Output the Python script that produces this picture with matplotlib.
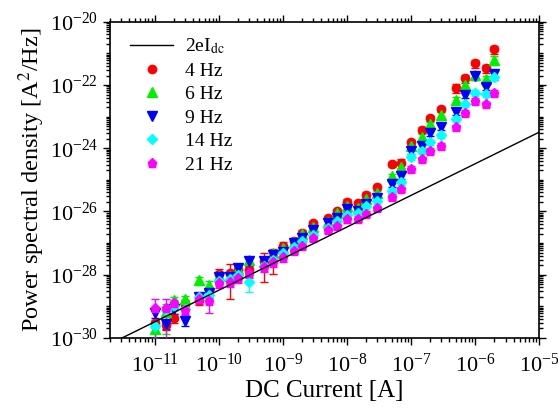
import numpy as np
import matplotlib
matplotlib.use("Agg")
import matplotlib.pyplot as plt
from matplotlib.lines import Line2D
from matplotlib.ticker import FixedLocator, LogFormatterSciNotation, NullFormatter

plt.rcParams['font.family'] = ['Liberation Serif', 'DejaVu Serif']
plt.rcParams['mathtext.fontset'] = 'stix'

# DC current [A]
current = [1e-11, 1.5e-11, 2e-11, 3e-11, 5e-11, 7e-11,
           1e-10, 1.5e-10, 2e-10, 3e-10, 5e-10, 7e-10,
           1e-9, 1.5e-9, 2e-9, 3e-9, 5e-9, 7e-9,
           1e-8, 1.5e-8, 2e-8, 3e-8, 5e-8, 7e-8,
           1e-7, 1.5e-7, 2e-7, 3e-7, 5e-7, 7e-7,
           1e-6, 1.5e-6, 2e-6]

psd_4hz = [2.88e-30, 2.49e-30, 4.31e-30, 1.21e-29, 1.55e-29, 3.20e-29,
           1.03e-28, 1.15e-28, 1.38e-28, 1.38e-28, 2.66e-28, 3.64e-28,
           8.13e-28, 1.15e-27, 2.08e-27, 4.17e-27, 6.14e-27, 1.00e-26,
           2.01e-26, 1.79e-26, 3.36e-26, 5.89e-26, 3.16e-25, 3.40e-25,
           1.57e-24, 3.78e-24, 8.87e-24, 1.71e-23, 8.28e-23, 1.64e-22,
           4.91e-22, 3.40e-22, 1.36e-21]
psd_6hz = [1.86e-30, 6.56e-30, 1.55e-29, 1.68e-29, 6.64e-29, 4.79e-29,
           8.89e-29, 8.89e-29, 1.48e-28, 2.86e-28, 2.56e-28, 4.76e-28,
           6.87e-28, 1.09e-27, 1.87e-27, 3.25e-27, 4.58e-27, 8.65e-27,
           1.53e-26, 1.32e-26, 2.55e-26, 3.80e-26, 1.32e-25, 2.54e-25,
           1.17e-24, 2.31e-24, 5.71e-24, 1.13e-23, 3.37e-23, 1.01e-22,
           2.09e-22, 1.56e-22, 6.25e-22]
psd_9hz = [5.97e-30, 2.68e-30, 8.00e-30, 3.51e-30, 1.92e-29, 2.67e-29,
           8.28e-29, 8.28e-29, 1.60e-28, 2.66e-28, 2.76e-28, 4.12e-28,
           5.24e-28, 9.68e-28, 1.43e-27, 2.55e-27, 4.26e-27, 6.35e-27,
           1.18e-26, 1.06e-26, 1.74e-26, 2.64e-26, 7.33e-26, 1.36e-25,
           8.45e-25, 1.20e-24, 2.96e-24, 4.80e-24, 1.44e-23, 4.85e-23,
           1.87e-22, 8.51e-23, 2.25e-22]
psd_14hz = [2.31e-30, 7.45e-30, 9.95e-30, 8.00e-30, 1.96e-29, 2.22e-29,
            6.18e-29, 7.14e-29, 9.57e-29, 5.74e-29, 1.89e-28, 2.86e-28,
            4.67e-28, 7.55e-28, 1.20e-27, 1.77e-27, 2.96e-27, 5.11e-27,
            7.64e-27, 9.16e-27, 1.47e-26, 2.12e-26, 4.56e-26, 8.49e-26,
            5.38e-25, 8.34e-25, 1.54e-24, 2.62e-24, 8.41e-24, 2.46e-23,
            5.74e-23, 5.11e-23, 1.77e-22]
psd_21hz = [8.93e-30, 8.61e-30, 1.24e-29, 7.45e-30, 1.66e-29, 1.51e-29,
            5.33e-29, 5.74e-29, 7.69e-29, 1.11e-28, 1.75e-28, 2.52e-28,
            3.64e-28, 5.52e-28, 8.24e-28, 1.43e-27, 2.55e-27, 3.42e-27,
            5.57e-27, 5.82e-27, 8.39e-27, 1.27e-26, 2.94e-26, 5.09e-26,
            2.28e-25, 4.55e-25, 8.34e-25, 1.20e-24, 4.59e-24, 1.33e-23,
            3.18e-23, 2.46e-23, 5.74e-23]

# relative (linear) error of each point
err_4hz = [0.3, 0.3, 0.3, 0.3, 0.3, 0.3,
           0.5, 0.85, 0.3, 0.3, 0.78, 0.72,
           0.3, 0.3, 0.2, 0.2, 0.2, 0.2,
           0.2, 0.2, 0.2, 0.2, 0.2, 0.3,
           0.2, 0.2, 0.2, 0.2, 0.3, 0.3,
           0.3, 0.3, 0.3]
err_6hz = [0.8, 0.8, 0.3, 0.3, 0.3, 0.3,
           0.3, 0.3, 0.3, 0.3, 0.3, 0.3,
           0.3, 0.2, 0.2, 0.2, 0.2, 0.2,
           0.2, 0.2, 0.2, 0.2, 0.2, 0.2,
           0.2, 0.2, 0.2, 0.2, 0.2, 0.2,
           0.2, 0.2, 0.3]
err_9hz = [0.3, 0.3, 0.3, 0.3, 0.3, 0.3,
           0.3, 0.3, 0.3, 0.3, 0.3, 0.3,
           0.3, 0.2, 0.2, 0.2, 0.2, 0.2,
           0.2, 0.2, 0.2, 0.2, 0.2, 0.2,
           0.2, 0.2, 0.2, 0.2, 0.2, 0.2,
           0.2, 0.2, 0.35]
err_14hz = [0.6, 0.3, 0.3, 0.3, 0.3, 0.3,
            0.3, 0.3, 0.3, 0.5, 0.3, 0.3,
            0.3, 0.2, 0.2, 0.2, 0.2, 0.2,
            0.2, 0.2, 0.2, 0.2, 0.2, 0.2,
            0.2, 0.2, 0.2, 0.2, 0.2, 0.2,
            0.2, 0.2, 0.2]
err_21hz = [0.9, 0.9, 0.3, 0.3, 0.3, 0.6,
            0.3, 0.3, 0.3, 0.3, 0.3, 0.3,
            0.3, 0.2, 0.2, 0.2, 0.2, 0.2,
            0.2, 0.2, 0.2, 0.2, 0.2, 0.2,
            0.2, 0.2, 0.2, 0.2, 0.2, 0.2,
            0.2, 0.2, 0.2]

labels = ['4 Hz', '6 Hz', '9 Hz', '14 Hz', '21 Hz']
series = [psd_4hz, psd_6hz, psd_9hz, psd_14hz, psd_21hz]
errors = [err_4hz, err_6hz, err_9hz, err_14hz, err_21hz]
colors = ['#ff0000', '#00f000', '#0000ff', '#00ffff', '#ff00ff']
markers = ['o', '^', 'v', 'D', 'p']
msizes = [6.0, 6.5, 6.5, 5.0, 6.5]

# axis tick values
x_ticks = [1e-11, 1e-10, 1e-9, 1e-8, 1e-7, 1e-6, 1e-5]
y_ticks = [1e-30, 1e-28, 1e-26, 1e-24, 1e-22, 1e-20]

e_charge = 1.602e-19
shot_current = [2e-12, 1e-5]

fig = plt.figure(figsize=(5.58, 4.12), dpi=100)
ax = fig.add_axes([0.197, 0.180, 0.769, 0.767])

ax.plot(shot_current, [2 * e_charge * i for i in shot_current],
        color='black', lw=1.0, zorder=5)

x = np.array(current)
for y, err, c, m, ms in zip(series, errors, colors, markers, msizes):
    y = np.array(y)
    e = np.array(err) * y
    ax.errorbar(x, y, yerr=e, fmt=m, color=c, ms=ms, mec=c, mfc=c,
                ecolor=c, elinewidth=1.0, capsize=3, capthick=1.0,
                zorder=3)

ax.set_xscale('log')
ax.set_yscale('log')
ax.set_xlim(2e-12, 1e-5)
ax.set_ylim(1e-30, 1e-20)

# minor ticks inside the visible range
x_minor = [m * 10.0 ** k for k in range(-12, -5) for m in range(2, 10)]
x_minor = [v for v in x_minor if 2e-12 <= v <= 1e-5]
y_minor = [m * 10.0 ** k for k in range(-30, -20) for m in range(1, 10)]
y_minor = [v for v in y_minor if 1e-30 <= v <= 1e-20 and v not in y_ticks]

ax.xaxis.set_major_locator(FixedLocator(x_ticks))
ax.xaxis.set_minor_locator(FixedLocator(x_minor))
ax.yaxis.set_major_locator(FixedLocator(y_ticks))
ax.yaxis.set_minor_locator(FixedLocator(y_minor))
ax.xaxis.set_major_formatter(LogFormatterSciNotation())
ax.yaxis.set_major_formatter(LogFormatterSciNotation())
ax.xaxis.set_minor_formatter(NullFormatter())
ax.yaxis.set_minor_formatter(NullFormatter())

ax.tick_params(which='both', direction='out', top=True, right=True,
               labelsize=16, width=1.0)
ax.tick_params(which='major', length=5)
ax.tick_params(which='minor', length=3)
ax.tick_params(axis='x', which='major', pad=6)
for s in ax.spines.values():
    s.set_linewidth(1.2)

ax.set_xlabel('DC Current [A]', fontsize=18, labelpad=3)
ax.set_ylabel(r'Power spectral density [A$^{2}$/Hz]', fontsize=17.5, labelpad=2)

handles = [Line2D([], [], color='black', lw=1.0)]
for c, m, ms in zip(colors, markers, msizes):
    handles.append(Line2D([], [], ls='none', marker=m, ms=ms, color=c))
leg = ax.legend(handles, [r'2eI$_{\mathrm{dc}}$'] + labels,
                loc='upper left', bbox_to_anchor=(0.02, 0.99),
                frameon=False, fontsize=14, handlelength=2.2,
                handletextpad=0.6, labelspacing=0.3, borderaxespad=0.2)

fig.savefig('out.png', dpi=100)
